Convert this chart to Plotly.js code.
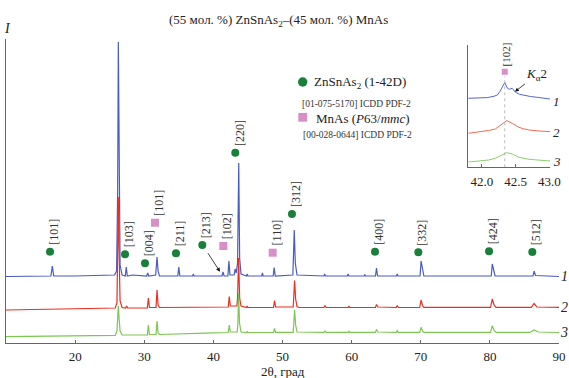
<!DOCTYPE html>
<html><head><meta charset="utf-8">
<script src="https://cdn.plot.ly/plotly-3.0.1.min.js"></script>
<style>html,body{margin:0;padding:0;background:#fff}#plot{width:569px;height:378px}</style>
</head><body><div id="plot"></div>
<script>
// ---- main pattern data: [2θ, intensity (arb. units, offset per curve)] ----
const curve1 = [[10,66.5],[14,67],[16.5,67],[16.7,77],[16.9,67],[20,67],[24,67.5],[25.7,68],[26.0,72],[26.15,150],[26.25,301],[26.35,160],[26.5,78],[26.8,68],[27.25,67],[27.4,76],[27.55,67],[28.3,68],[30.35,67],[30.5,70],[30.65,67],[31.65,68],[31.85,86],[32.0,72],[32.2,67],[34.85,67],[35.0,76],[35.15,67],[37.0,67],[37.1,69],[37.2,67],[41.25,67],[41.4,71],[41.55,67],[42.1,67],[42.25,82],[42.4,68],[43.0,68],[43.15,74],[43.3,70],[43.5,80],[43.67,180],[43.8,85],[44.0,69],[44.8,67],[44.9,69],[45.0,67],[47.0,67],[47.1,70],[47.2,67],[48.65,67],[48.8,75.5],[48.95,67],[51.5,68],[51.7,113],[51.85,80],[52.1,68],[56.0,67],[56.1,69],[56.2,67],[59.4,67],[59.5,69],[59.6,67],[61.8,67],[61.9,68.5],[62.0,67],[63.45,67],[63.6,75],[63.75,67],[66.5,67],[66.6,69],[66.7,67],[69.9,67],[70.05,82],[70.25,74],[70.45,67],[80.2,67],[80.35,79],[80.55,73],[80.75,67],[86.25,67],[86.4,72],[86.6,67.5],[90,66.5]];
const curve2 = [[10,33],[14,33.5],[20,34.5],[25.8,35],[26.05,40],[26.15,90],[26.25,146],[26.35,95],[26.5,42],[26.8,35.5],[27.3,35],[27.45,37],[27.6,35],[30.45,35],[30.6,45],[30.75,35.5],[31.7,35.5],[31.85,53],[32.0,38],[32.2,35.5],[35,35.5],[41.0,35.5],[42.15,36],[42.3,46.5],[42.45,37],[43.4,37],[43.5,45],[43.65,85],[43.8,45],[44.0,37],[44.8,35.5],[44.9,37],[45.0,35.5],[48.7,35.5],[48.85,42.5],[49.0,36],[51.55,36],[51.75,62.5],[51.9,44],[52.1,36.5],[52.4,35.5],[56.0,35.5],[56.15,37.5],[56.3,35.5],[59.5,35.5],[59.6,37],[59.7,35.5],[63.45,35.5],[63.6,38.5],[63.8,36],[66.45,35.5],[66.6,37.5],[66.75,35.5],[69.85,35.5],[70.05,43],[70.25,37.5],[70.45,35.7],[80.1,35.7],[80.35,44],[80.6,38],[80.9,35.7],[86.0,35.7],[86.4,39.5],[86.8,36],[90,35.7]];
const curve3 = [[10,6.3],[15,6.6],[20,7],[25.8,7.6],[26.05,12],[26.15,25],[26.25,37],[26.35,26],[26.5,12],[26.8,8],[30,8],[30.45,8.2],[30.6,18],[30.75,8.5],[31.7,8.5],[31.85,22],[32.0,10],[32.2,8.5],[40,10.2],[42.15,10.5],[42.3,18],[42.45,11],[43.45,11],[43.55,20],[43.65,50],[43.78,20],[44.0,11],[44.8,10.5],[44.9,11.5],[45.0,10.5],[48.7,10.5],[48.85,14.7],[49.0,10.7],[51.55,10.7],[51.75,33],[51.9,18],[52.1,11],[56.0,10.6],[56.15,12],[56.3,10.6],[59.5,10.6],[59.6,11.6],[59.7,10.6],[63.45,10.6],[63.6,13.5],[63.8,11],[66.45,10.6],[66.6,12.3],[66.75,10.6],[69.85,10.6],[70.05,15.7],[70.25,12],[70.45,10.6],[80.1,10.6],[80.35,17.3],[80.6,12.5],[80.9,10.6],[85.8,10.6],[86.4,13],[87,11],[90,10.5]];

// ---- phase markers ----
const znX = [16.37, 25.91, 27.22, 30.11, 34.59, 38.40, 43.17, 51.37, 63.38, 69.65, 79.88, 86.14];
const znY = [91.3, 310, 88.7, 79.7, 89.7, 98, 190.3, 129, 91.3, 90.7, 91.7, 91];
const znLabels = ["[101]","[112]","[103]","[004]","[211]","[213]","[220]","[312]","[400]","[332]","[424]","[512]"];
const mnX = [31.56, 41.44, 48.58];
const mnY = [120.3, 97, 90.3];
const mnLabels = ["[101]","[102]","[110]"];

// ---- inset data ----
const inset1 = [[41.8,69],[41.95,69.5],[42.08,69.7],[42.18,71],[42.23,72.3],[42.27,76],[42.29,79],[42.34,84.7],[42.38,79],[42.41,78],[42.45,79],[42.5,75],[42.56,73],[42.62,72],[42.72,70.8],[42.82,70],[42.92,69],[43.01,68.3]];
const inset2 = [[41.8,34],[41.9,34.8],[42.0,35.7],[42.1,36.8],[42.2,38.3],[42.3,43],[42.37,46.7],[42.45,44],[42.55,40],[42.62,38.5],[42.7,37.3],[42.85,36.3],[43.01,35.7]];
const inset3 = [[41.8,5.3],[41.9,5.8],[42.0,6.3],[42.1,7.3],[42.2,9],[42.3,12.3],[42.37,14.7],[42.45,13.3],[42.55,10],[42.7,8],[42.85,7],[43.01,6.3]];
const insetPeakX = 42.34, insetMarkY = 95.6, insetLineTop = 91;
const kaX = 42.49, kaY = 75.6;
const arrow213 = [40.96, 71.3];

const xTicks = [10,20,30,40,50,60,70,80,90];
const insetTicks = [42.0, 42.5, 43.0];
const insetTickText = ["42.0","42.5","43.0"];

const FONT = "Liberation Serif";
const colBlue = "#4a5bc4", colRed = "#ee2d1f", colGreen = "#7cc752";
const dotGreen = "#1a7f3a", pink = "#d88fc6";

const xs = a => a.map(p => p[0]), ys = a => a.map(p => p[1]);

const traces = [
  {x: xs(curve1), y: ys(curve1), mode: 'lines', line: {color: colBlue, width: 1.2}, hoverinfo: 'skip'},
  {x: xs(curve2), y: ys(curve2), mode: 'lines', line: {color: colRed, width: 1.2}, hoverinfo: 'skip'},
  {x: xs(curve3), y: ys(curve3), mode: 'lines', line: {color: colGreen, width: 1.2}, hoverinfo: 'skip'},
  {x: znX, y: znY, mode: 'markers', marker: {color: dotGreen, size: 8, symbol: 'circle'}, hoverinfo: 'skip'},
  {x: mnX, y: mnY, mode: 'markers', marker: {color: pink, size: 8, symbol: 'square'}, hoverinfo: 'skip'},
  {x: xs(inset1), y: ys(inset1), xaxis: 'x2', yaxis: 'y2', mode: 'lines', line: {color: '#5566cc', width: 1}, hoverinfo: 'skip'},
  {x: xs(inset2), y: ys(inset2), xaxis: 'x2', yaxis: 'y2', mode: 'lines', line: {color: '#f36a4e', width: 1}, hoverinfo: 'skip'},
  {x: xs(inset3), y: ys(inset3), xaxis: 'x2', yaxis: 'y2', mode: 'lines', line: {color: '#8ccf6a', width: 1}, hoverinfo: 'skip'},
  {x: [insetPeakX], y: [insetMarkY], xaxis: 'x2', yaxis: 'y2', mode: 'markers', marker: {color: pink, size: 6, symbol: 'square'}, hoverinfo: 'skip'}
];

// paper coordinate helpers from pixel positions
const L = 6, T = 39, W = 553, H = 304;
const px = v => (v - L) / W;
const py = v => (T + H - v) / H;

const ann = [];
const peakLab = (x, y, t) => ann.push({x, y, xref: 'x', yref: 'y', text: t, textangle: -90, showarrow: false,
  xanchor: 'center', yanchor: 'bottom', xshift: 4, yshift: 5, font: {family: FONT, size: 12, color: '#333'}});
znX.forEach((x, i) => peakLab(x, znY[i], znLabels[i]));
mnX.forEach((x, i) => peakLab(x, mnY[i], mnLabels[i]));

const txt = (x, y, t, o) => ann.push(Object.assign({x: px(x), y: py(y), xref: 'paper', yref: 'paper', text: t,
  showarrow: false, xanchor: 'center', yanchor: 'middle', font: {family: FONT, size: 13, color: '#222'}}, o || {}));

txt(278, 20, "(55 мол. %) ZnSnAs<sub>2</sub>–(45 мол. %) MnAs");
txt(7, 28, "<i>I</i>", {font: {family: FONT, size: 14, color: '#222'}});
txt(283, 371, "2θ, град");
txt(312, 82.7, "ZnSnAs<sub>2</sub> (1-42D)", {xanchor: 'left'});
txt(300, 104.3, "[01-075-5170] ICDD PDF-2", {xanchor: 'left', font: {family: FONT, size: 9.5, color: '#333'}});
txt(314, 118.3, "MnAs (<i>P</i>63/<i>mmc</i>)", {xanchor: 'left'});
txt(301, 135, "[00-028-0644] ICDD PDF-2", {xanchor: 'left', font: {family: FONT, size: 9.5, color: '#333'}});
[["1", 276.7], ["2", 307.3], ["3", 332.7]].forEach(a => txt(564.5, a[1], "<i>" + a[0] + "</i>", {font: {family: FONT, size: 14, color: '#222'}}));
[["1", 101.7], ["2", 132.7], ["3", 161.7]].forEach(a => txt(556.7, a[1], "<i>" + a[0] + "</i>", {font: {family: FONT, size: 13, color: '#222'}}));

// inset label and K alpha2 arrow
ann.push({x: insetPeakX, y: insetMarkY, xref: 'x2', yref: 'y2', text: "[102]", textangle: -90, showarrow: false,
  xanchor: 'center', yanchor: 'bottom', yshift: 3, xshift: 1, font: {family: FONT, size: 11, color: '#333'}});
ann.push({x: kaX, y: kaY, xref: 'x2', yref: 'y2', text: "<i>K</i><sub>α</sub>2", showarrow: true,
  ax: 22, ay: -17, arrowhead: 2, arrowsize: 1, arrowwidth: 0.8, arrowcolor: '#111', font: {family: FONT, size: 13, color: '#222'}});
// [213] arrow
ann.push({x: arrow213[0], y: arrow213[1], xref: 'x', yref: 'y', text: "", showarrow: true,
  ax: -13, ay: -20, arrowhead: 2, arrowsize: 1, arrowwidth: 0.8, arrowcolor: '#111'});

const shapes = [
  {type: 'circle', xref: 'paper', yref: 'paper', xsizemode: 'pixel', ysizemode: 'pixel', xanchor: px(302.7), yanchor: py(82),
   x0: -4.7, x1: 4.7, y0: -4.7, y1: 4.7, fillcolor: dotGreen, line: {width: 0}},
  {type: 'rect', xref: 'paper', yref: 'paper', xsizemode: 'pixel', ysizemode: 'pixel', xanchor: px(302.7), yanchor: py(117.3),
   x0: -4.4, x1: 4.4, y0: -4.4, y1: 4.4, fillcolor: pink, line: {width: 0}},
  {type: 'line', xref: 'x2', yref: 'y2', x0: insetPeakX, x1: insetPeakX, y0: 0, y1: insetLineTop,
   line: {color: '#aaa', width: 0.8, dash: 'dot'}}
];

const axBase = {showgrid: false, zeroline: false, showline: true, linecolor: '#666', linewidth: 1};
const layout = {
  width: 569, height: 378,
  margin: {l: L, r: 569 - L - W, t: T, b: 378 - T - H, pad: 0},
  paper_bgcolor: '#fff', plot_bgcolor: 'rgba(0,0,0,0)',
  showlegend: false,
  font: {family: FONT, size: 13, color: '#222'},
  xaxis: Object.assign({}, axBase, {range: [10, 90], tickvals: xTicks, ticks: 'inside', ticklen: 3, tickcolor: '#666',
    tickfont: {family: FONT, size: 13, color: '#222'}, ticklabelstandoff: 1}),
  yaxis: Object.assign({}, axBase, {range: [0, 304], ticks: '', showticklabels: false}),
  xaxis2: Object.assign({}, axBase, {domain: [px(468.3), px(550)], anchor: 'y2', range: [41.8, 43.01],
    tickvals: insetTicks, ticktext: insetTickText, ticks: 'inside', ticklen: 3, tickcolor: '#666',
    tickfont: {family: FONT, size: 13, color: '#222'}, ticklabelstandoff: 2}),
  yaxis2: Object.assign({}, axBase, {domain: [py(167.3), py(45)], anchor: 'x2', range: [0, 122.3], ticks: '', showticklabels: false}),
  annotations: ann,
  shapes: shapes
};

Plotly.newPlot('plot', traces, layout, {displayModeBar: false, staticPlot: true});
</script>
</body></html>
